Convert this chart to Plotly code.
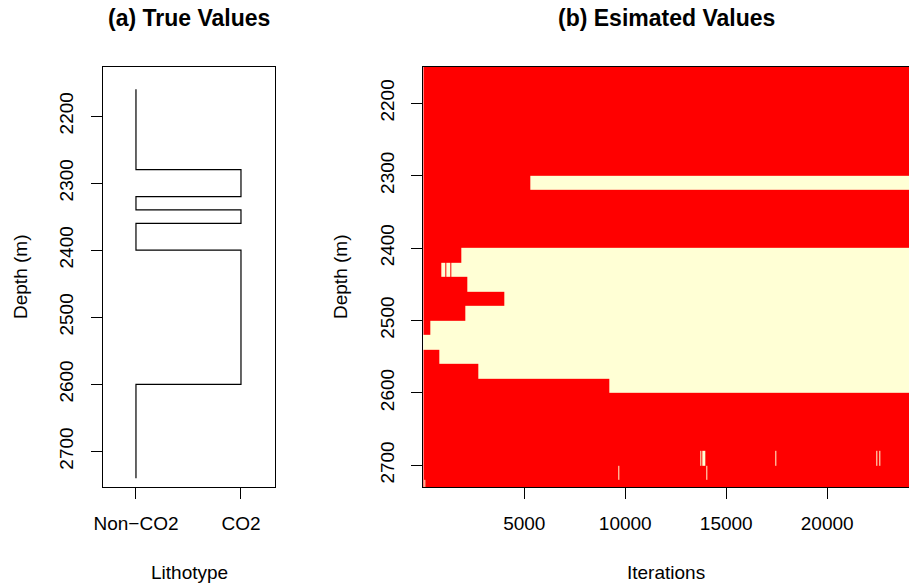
import plotly.graph_objects as go

W, H = 909, 587

# ---------------- (a) true lithotype profile ----------------
true_top = [2160, 2280, 2320, 2340, 2360, 2400, 2600]
true_bottom = [2280, 2320, 2340, 2360, 2400, 2600, 2740]
true_litho = [0, 1, 0, 1, 0, 1, 0]   # 0 = Non-CO2, 1 = CO2
litho_ticks = [0, 1]
litho_labels = ["Non\u2212CO2", "CO2"]
depth_ticks = [2200, 2300, 2400, 2500, 2600, 2700]
depth_labels = ["2200", "2300", "2400", "2500", "2600", "2700"]

# ---------------- (b) estimated lithotype per iteration ----------------
est_depth = [2150, 2170, 2190, 2210, 2230, 2250, 2270, 2290, 2310, 2330,
             2350, 2370, 2390, 2410, 2430, 2450, 2470, 2490, 2510, 2530,
             2550, 2570, 2590, 2610, 2630, 2650, 2670, 2690, 2710, 2730]
# CO2 (value 1) runs in iterations for each depth row; everything else Non-CO2
est_co2_runs = [
    [], [], [], [], [], [], [], [],
    [(5300, 25000)],
    [], [], [], [],
    [(1900, 25000)],
    [(880, 1070), (1120, 1320), (1370, 25000)],
    [(2160, 25000)],
    [(4000, 25000)],
    [(2060, 25000)],
    [(330, 25000)],
    [(0, 25000)],
    [(780, 25000)],
    [(2710, 25000)],
    [(9190, 25000)],
    [], [], [], [],
    [(13700, 13750), (13800, 13950), (17450, 17500), (22450, 22500), (22560, 22640)],
    [(9650, 9700), (14000, 14050)],
    [(40, 90)],
]
n_iter = 25000
iter_ticks = [5000, 10000, 15000, 20000]
iter_labels = ["5000", "10000", "15000", "20000"]

# build true-profile polyline from the intervals
tx, ty = [], []
for top, bot, v in zip(true_top, true_bottom, true_litho):
    tx += [v, v]
    ty += [top, bot]

# build heatmap with non-uniform iteration edges
edges = {0, n_iter}
for runs in est_co2_runs:
    for a, b in runs:
        edges.add(a); edges.add(b)
x_edges = sorted(edges)
z = []
for runs in est_co2_runs:
    row = []
    for i in range(len(x_edges) - 1):
        mid = 0.5 * (x_edges[i] + x_edges[i + 1])
        row.append(1 if any(a <= mid < b for a, b in runs) else 0)
    z.append(row)
dstep = est_depth[1] - est_depth[0]
y_edges = [d - dstep / 2 for d in est_depth] + [est_depth[-1] + dstep / 2]

fig = go.Figure()
fig.add_trace(go.Scatter(x=tx, y=ty, mode="lines",
                         line=dict(color="black", width=1.2),
                         xaxis="x", yaxis="y", showlegend=False,
                         hoverinfo="skip"))
fig.add_trace(go.Heatmap(x=x_edges, y=y_edges, z=z, zmin=0, zmax=1,
                         colorscale=[[0, "#FF0000"], [1, "#FFFFD5"]],
                         showscale=False, zsmooth=False,
                         xaxis="x2", yaxis="y2"))

FONT = "Liberation Sans, Arial, Helvetica, sans-serif"
tickfont = dict(family=FONT, size=19, color="black")
ydom = [1 - 487 / H, 1 - 67 / H]

common = dict(showgrid=False, zeroline=False, showline=True, mirror=True,
              linecolor="black", linewidth=1, ticks="outside", ticklen=11,
              tickcolor="black", tickwidth=1, tickfont=tickfont,
              automargin=False)

fig.update_layout(
    width=W, height=H, autosize=False,
    margin=dict(l=0, r=0, t=0, b=0, pad=0),
    paper_bgcolor="white", plot_bgcolor="white",
    showlegend=False,
    xaxis=dict(domain=[103 / W, 275 / W], range=[-0.314, 1.324],
               tickvals=litho_ticks, ticktext=litho_labels,
               ticklabelstandoff=8, anchor="y", **common),
    yaxis=dict(domain=ydom, range=[2753.2, 2126.8], tickvals=depth_ticks,
               ticktext=depth_labels,
               tickangle=-90, anchor="x", ticklabelstandoff=10, **common),
    xaxis2=dict(domain=[423.3 / W, 1.0], range=[0, 24050],
                tickvals=iter_ticks, ticktext=iter_labels,
                anchor="y2", ticklabelstandoff=8, **common),
    yaxis2=dict(domain=ydom, range=[2730, 2150], tickvals=depth_ticks,
                ticktext=depth_labels,
                tickangle=-90, anchor="x2", ticklabelstandoff=10, **common),
)

def ann(text, x, y, size=19, angle=0):
    fig.add_annotation(text=text, x=x / W, y=1 - y / H, xref="paper",
                       yref="paper", showarrow=False, textangle=angle,
                       xanchor="center", yanchor="middle",
                       font=dict(family=FONT, size=size, color="black"))

ann("<b>(a) True Values</b>", 189, 18, size=23)
ann("<b>(b) Esimated Values</b>", 666, 18, size=23)
ann("Lithotype", 189, 572)
ann("Iterations", 666, 572)
ann("Depth (m)", 20, 277, angle=-90)
ann("Depth (m)", 340, 277, angle=-90)

html = fig.to_html(full_html=True, include_plotlyjs=True,
                   config={"displayModeBar": False, "responsive": False})
html = html.replace("<head>",
                    "<head><style>html,body{margin:0;padding:0;overflow:hidden;}</style>", 1)
with open("out.html", "w", encoding="utf-8") as f:
    f.write(html)
